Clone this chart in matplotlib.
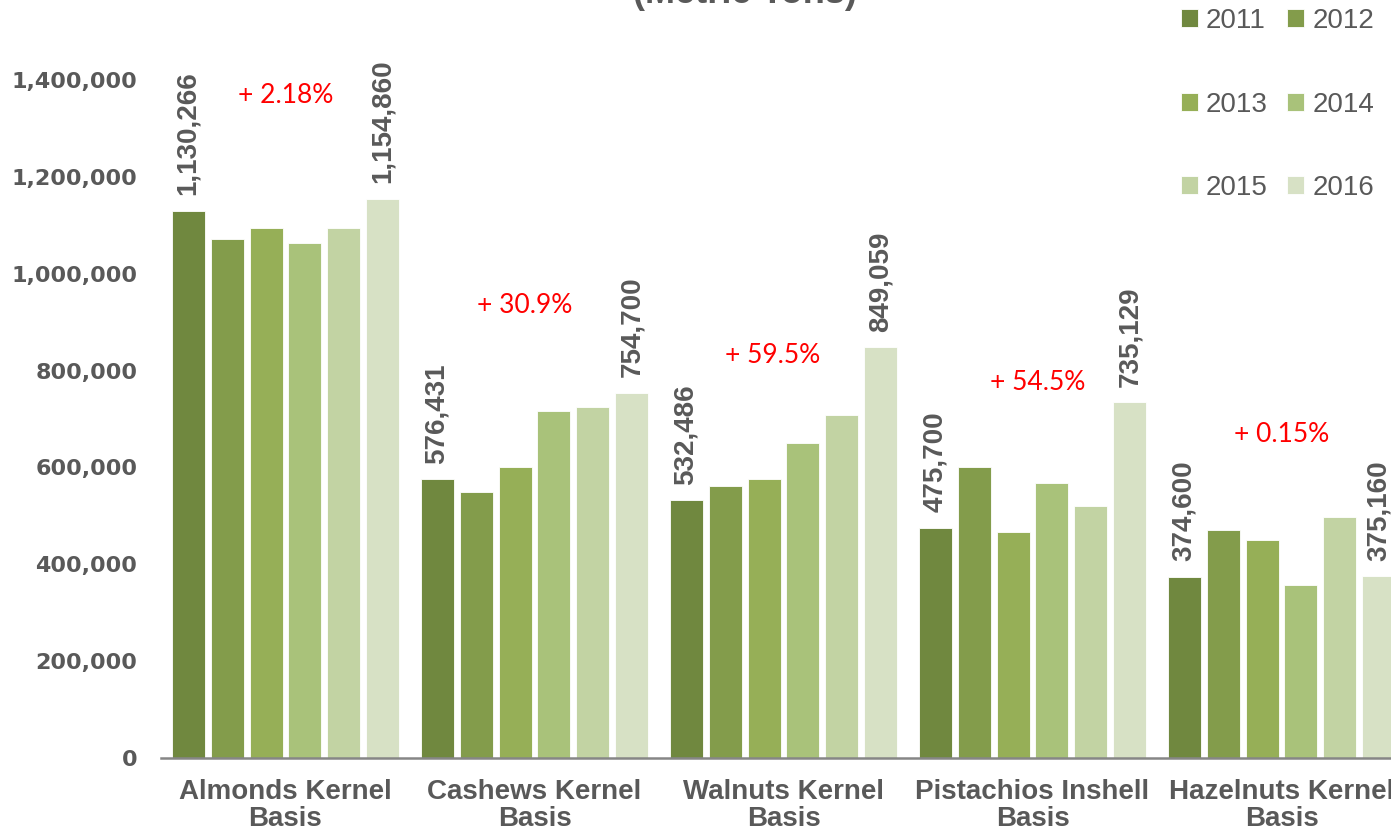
import matplotlib
matplotlib.use('Agg')
import matplotlib.pyplot as plt
import numpy as np
from matplotlib.ticker import FuncFormatter

# data (metric tons)
categories = ['Almonds Kernel\nBasis', 'Cashews Kernel\nBasis', 'Walnuts Kernel\nBasis',
              'Pistachios Inshell\nBasis', 'Hazelnuts Kernel\nBasis']
years = ['2011', '2012', '2013', '2014', '2015', '2016']

v2011 = [1130266, 576431, 532486, 475700, 374600]
v2012 = [1071000, 550000, 561000, 600000, 471000]
v2013 = [1095000, 600000, 576000, 467000, 450000]
v2014 = [1063000, 716000, 650000, 568000, 357000]
v2015 = [1095000, 725000, 708000, 521000, 497000]
v2016 = [1154860, 754700, 849059, 735129, 375160]

growth = ['+ 2.18%', '+ 30.9%', '+ 59.5%', '+ 54.5%', '+ 0.15%']

# layout of the red growth notes (x shift in category units, y in data units)
growth_dx = [0, -0.04, -0.045, 0.02, 0]
growth_y = [1369000, 935000, 832000, 776000, 667000]

colors = ['#70883F', '#839C4B', '#96AF57', '#A9C27A', '#C2D3A3', '#D7E1C5']
grey = '#595959'

W, H = 1391, 833
fig = plt.figure(figsize=(W / 100, H / 100), dpi=100)
ax = fig.add_axes([161 / W, 75 / H, 1245 / W, 678 / H])

series = [v2011, v2012, v2013, v2014, v2015, v2016]
x = np.arange(len(categories))
pitch = 39 / 249.25
width = 33 / 249.25

bars = []
for i, vals in enumerate(series):
    b = ax.bar(x + (i - 2.5) * pitch, vals, width, color=colors[i],
               edgecolor='white', linewidth=0.6, label=years[i])
    bars.append(b)

# value labels on first and last year
for b in (bars[0], bars[5]):
    for rect in b:
        ax.annotate(f'{rect.get_height():,.0f}',
                    (rect.get_x() + rect.get_width() / 2, rect.get_height()),
                    xytext=(0, 11), textcoords='offset points',
                    rotation=90, ha='center', va='bottom',
                    fontsize=20, fontweight='bold', color=grey,
                    family='Liberation Sans', annotation_clip=False)

for xi, dx, yv, txt in zip(x, growth_dx, growth_y, growth):
    ax.text(xi + dx, yv, txt, ha='center', va='center', color='#FF0000',
            fontsize=19, family='Lato')

ax.set_xlim(-0.5, len(categories) - 0.5)
ax.set_ylim(0, 1400000)
ax.set_yticks(np.arange(0, 1400001, 200000))
ax.yaxis.set_major_formatter(FuncFormatter(lambda v, p: f'{v:,.0f}'))
ax.set_xticks(x)
ax.set_xticklabels(categories, fontsize=20, fontweight='bold', color=grey,
                   family='Liberation Sans', linespacing=1.05)
for t in ax.get_yticklabels():
    t.set_fontsize(16)
    t.set_fontweight('bold')
    t.set_color(grey)
    t.set_family('DejaVu Sans')
ax.tick_params(axis='y', length=0, pad=17)
ax.tick_params(axis='x', length=0, pad=15)

for s in ('top', 'right', 'left'):
    ax.spines[s].set_visible(False)
ax.spines['bottom'].set_color('#868686')
ax.spines['bottom'].set_linewidth(1.8)

order = [0, 2, 4, 1, 3, 5]
handles = [bars[i] for i in order]
labels = [years[i] for i in order]
fig.legend(handles, labels, loc='upper left', bbox_to_anchor=(1181 / W, 1 - 8 / H),
           ncol=2, frameon=False, borderpad=0, borderaxespad=0,
           prop={'family': 'Liberation Sans', 'size': 20}, labelcolor=grey,
           handlelength=0.6, handleheight=0.6, handletextpad=0.3,
           columnspacing=0.7, labelspacing=2.07)

fig.text(745 / W, 1 - 3 / H, '(Metric Tons)', ha='center', va='baseline',
         fontsize=26, fontweight='bold', color=grey, family='Liberation Sans')

fig.savefig('out.png', dpi=100)
